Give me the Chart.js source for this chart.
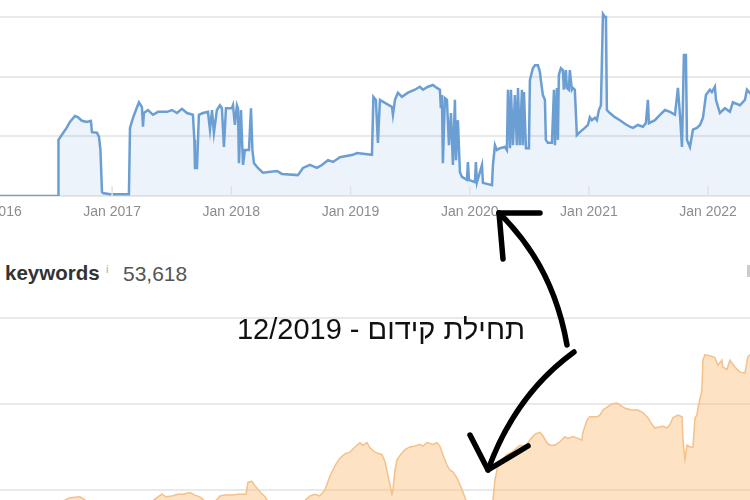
<!DOCTYPE html>
<html>
<head>
<meta charset="utf-8">
<script src="https://cdn.jsdelivr.net/npm/chart.js@4/dist/chart.umd.min.js"></script>
<style>
  html, body { margin: 0; padding: 0; background: #fff; }
  body { width: 750px; height: 500px; position: relative; overflow: hidden; font-family: 'Liberation Sans', Arial, sans-serif; }
  .box { position: absolute; }
  #topBox { left: -60px; top: 0; width: 870px; height: 221px; }
  #bottomBox { left: -60px; top: 300px; width: 870px; height: 200px; }
  .label { position: absolute; white-space: nowrap; line-height: 1; }
  #kw { left: 5px; top: 263px; font-size: 20.5px; font-weight: bold; color: #333; }
  #kwInfo { left: 106px; top: 264px; font-size: 11px; color: #aaa; }
  #kwValue { left: 123px; top: 263px; font-size: 21px; color: #555; }
  #edgeMark { position: absolute; left: 747px; top: 265px; width: 3px; height: 12px; background: #ccc; }
  #note { right: 225px; top: 315px; font-size: 29px; color: #111; direction: rtl; font-family: 'Liberation Sans', 'DejaVu Sans', Arial, sans-serif; }
  #arrows { position: absolute; left: 0; top: 0; width: 750px; height: 500px; pointer-events: none; }
</style>
</head>
<body>
<div class="box" id="topBox"><canvas id="topChart" width="870" height="221"></canvas></div>
<div class="box" id="bottomBox"><canvas id="bottomChart" width="870" height="200"></canvas></div>

<div class="label" id="kw">keywords</div>
<div class="label" id="kwInfo">i</div>
<div class="label" id="kwValue">53,618</div>
<div id="edgeMark"></div>
<div class="label" id="note">תחילת קידום - 12/2019</div>

<svg id="arrows" viewBox="0 0 750 500">
  <g fill="none" stroke="#000" stroke-width="5.5" stroke-linecap="round" stroke-linejoin="round">
    <path d="M567 345 Q553 265 499 213" />
    <path d="M540 213 L499 213 L503 259" />
    <path d="M574 352 Q515 395 488 470" />
    <path d="M470 435 L488 470 L528 446" />
  </g>
</svg>

<script>
// time axis, in decimal years
const xMin = 2015.556;
const xMax = 2022.855;
const yearTicks = [2016, 2017, 2018, 2019, 2020, 2021, 2022];
const yearLabels = ['Jan 2016', 'Jan 2017', 'Jan 2018', 'Jan 2019', 'Jan 2020', 'Jan 2021', 'Jan 2022'];

// top chart (blue)
const topDates = [2015.95, 2016.546, 2016.55, 2016.59, 2016.618, 2016.646, 2016.688, 2016.713, 2016.747, 2016.789,
  2016.822, 2016.831, 2016.873, 2016.89, 2016.902, 2016.915, 2016.923, 2016.982, 2017.141, 2017.15,
  2017.175, 2017.2, 2017.225, 2017.25, 2017.259, 2017.267, 2017.301, 2017.343, 2017.385, 2017.46,
  2017.502, 2017.544, 2017.586, 2017.628, 2017.678, 2017.69, 2017.695, 2017.712, 2017.728, 2017.762,
  2017.804, 2017.821, 2017.838, 2017.854, 2017.879, 2017.905, 2017.921, 2017.938, 2017.955, 2018.005,
  2018.014, 2018.03, 2018.047, 2018.056, 2018.064, 2018.081, 2018.098, 2018.114, 2018.148, 2018.165,
  2018.177, 2018.19, 2018.223, 2018.265, 2018.383, 2018.425, 2018.559, 2018.601, 2018.66, 2018.718,
  2018.76, 2018.811, 2018.853, 2018.911, 2019.02, 2019.054, 2019.18, 2019.192, 2019.213, 2019.23,
  2019.247, 2019.289, 2019.348, 2019.356, 2019.373, 2019.398, 2019.431, 2019.482, 2019.54, 2019.582,
  2019.608, 2019.65, 2019.691, 2019.725, 2019.75, 2019.758, 2019.767, 2019.775, 2019.792, 2019.809,
  2019.826, 2019.843, 2019.859, 2019.876, 2019.885, 2019.901, 2019.918, 2019.935, 2019.977, 2019.985,
  2019.994, 2020.044, 2020.052, 2020.061, 2020.103, 2020.111, 2020.187, 2020.195, 2020.212, 2020.228,
  2020.254, 2020.296, 2020.312, 2020.321, 2020.338, 2020.346, 2020.363, 2020.379, 2020.396, 2020.405,
  2020.421, 2020.438, 2020.446, 2020.455, 2020.472, 2020.497, 2020.505, 2020.53, 2020.547, 2020.572,
  2020.589, 2020.597, 2020.614, 2020.631, 2020.639, 2020.656, 2020.69, 2020.707, 2020.715, 2020.732,
  2020.74, 2020.748, 2020.765, 2020.782, 2020.79, 2020.807, 2020.815, 2020.832, 2020.84, 2020.857,
  2020.866, 2020.882, 2020.899, 2020.924, 2020.966, 2020.992, 2021.008, 2021.025, 2021.05, 2021.067,
  2021.084, 2021.101, 2021.118, 2021.135, 2021.143, 2021.151, 2021.176, 2021.218, 2021.26, 2021.302,
  2021.344, 2021.37, 2021.411, 2021.453, 2021.478, 2021.495, 2021.504, 2021.554, 2021.596, 2021.638,
  2021.68, 2021.722, 2021.747, 2021.764, 2021.781, 2021.797, 2021.814, 2021.823, 2021.848, 2021.873,
  2021.906, 2021.932, 2021.957, 2021.982, 2022.015, 2022.032, 2022.057, 2022.066, 2022.099, 2022.141,
  2022.183, 2022.208, 2022.267, 2022.309, 2022.326, 2022.368];
const topValues = [0, 0, 94, 106, 114, 124, 134, 132, 126, 124,
  126, 107, 106, 99, 77, 7, 5, 3, 3, 114,
  131, 144, 157, 149, 116, 139, 144, 136, 141, 141,
  144, 139, 146, 139, 136, 94, 47, 47, 136, 139,
  141, 111, 144, 106, 144, 152, 147, 82, 147, 147,
  152, 119, 152, 147, 55, 144, 52, 77, 77, 147,
  77, 55, 47, 39, 42, 37, 35, 47, 52, 47,
  52, 60, 57, 65, 69, 72, 69, 166, 161, 89,
  161, 156, 149, 136, 161, 173, 166, 173, 178, 183,
  178, 183, 186, 181, 178, 147, 169, 55, 164, 161,
  85, 139, 52, 161, 60, 127, 40, 32, 27, 57,
  27, 23, 57, 23, 52, 22, 18, 52, 85, 77,
  80, 82, 77, 178, 80, 178, 85, 169, 85, 181,
  85, 178, 85, 174, 80, 80, 194, 214, 219, 219,
  208, 194, 169, 161, 94, 89, 89, 178, 85, 181,
  94, 203, 214, 211, 178, 211, 181, 178, 211, 178,
  181, 178, 102, 107, 114, 119, 132, 127, 131, 127,
  144, 152, 305, 300, 300, 144, 139, 132, 127, 121,
  116, 114, 119, 116, 122, 161, 122, 127, 136, 144,
  141, 136, 181, 136, 82, 236, 236, 94, 82, 111,
  114, 119, 131, 169, 178, 174, 183, 161, 139, 147,
  141, 157, 152, 161, 178, 169];
const topGrid = [0, 100, 200, 300];

// bottom chart (orange, organic keywords)
const bottomDates = [2015.9, 2016.395, 2016.604, 2016.646, 2016.73, 2016.797, 2017.066, 2017.317, 2017.385, 2017.418,
  2017.452, 2017.502, 2017.552, 2017.594, 2017.653, 2017.695, 2017.737, 2017.779, 2017.838, 2017.888,
  2017.905, 2017.947, 2018.014, 2018.047, 2018.123, 2018.14, 2018.173, 2018.198, 2018.24, 2018.282,
  2018.307, 2018.45, 2018.576, 2018.618, 2018.66, 2018.702, 2018.743, 2018.785, 2018.827, 2018.869,
  2018.911, 2018.953, 2018.995, 2019.037, 2019.079, 2019.104, 2019.138, 2019.163, 2019.205, 2019.264,
  2019.289, 2019.314, 2019.331, 2019.348, 2019.356, 2019.373, 2019.39, 2019.415, 2019.457, 2019.499,
  2019.54, 2019.582, 2019.608, 2019.641, 2019.691, 2019.725, 2019.75, 2019.775, 2019.809, 2019.834,
  2019.859, 2019.893, 2019.918, 2019.943, 2019.968, 2020.019, 2020.153, 2020.195, 2020.212, 2020.237,
  2020.27, 2020.312, 2020.354, 2020.396, 2020.421, 2020.446, 2020.48, 2020.505, 2020.547, 2020.589,
  2020.614, 2020.648, 2020.673, 2020.715, 2020.757, 2020.799, 2020.824, 2020.866, 2020.908, 2020.941,
  2020.95, 2020.983, 2021.008, 2021.067, 2021.092, 2021.117, 2021.159, 2021.193, 2021.235, 2021.26,
  2021.302, 2021.361, 2021.411, 2021.453, 2021.495, 2021.529, 2021.554, 2021.579, 2021.621, 2021.655,
  2021.68, 2021.705, 2021.747, 2021.781, 2021.789, 2021.806, 2021.823, 2021.848, 2021.873, 2021.89,
  2021.906, 2021.915, 2021.948, 2021.957, 2021.973, 2022.015, 2022.057, 2022.082, 2022.116, 2022.124,
  2022.158, 2022.183, 2022.225, 2022.267, 2022.309, 2022.334, 2022.368];
const bottomValues = [74, 81, 88, 91, 92, 86, 81, 85, 92, 95,
  92, 93, 95, 95, 97, 94, 92, 87, 84, 90,
  93, 94, 94, 95, 95, 109, 110, 105, 98, 92,
  87, 81, 84, 88, 93, 95, 93, 100, 116, 128,
  137, 142, 144, 150, 155, 152, 155, 149, 144, 141,
  133, 117, 106, 95, 100, 123, 135, 140, 147, 150,
  151, 153, 151, 155, 153, 155, 151, 141, 129, 123,
  121, 114, 106, 98, 88, 79, 79, 88, 112, 128,
  135, 141, 144, 149, 152, 151, 153, 158, 165, 167,
  163, 155, 152, 152, 156, 162, 160, 162, 160, 158,
  167, 181, 185, 185, 187, 193, 197, 200, 201, 199,
  195, 193, 193, 190, 184, 176, 172, 173, 174, 172,
  176, 184, 187, 185, 158, 135, 152, 150, 150, 184,
  187, 195, 216, 251, 257, 256, 254, 245, 251, 243,
  240, 251, 243, 237, 236, 255, 259];
const bottomGrid = [100, 200, 300];

const FONT = "'Liberation Sans', Arial, sans-serif";
const toPoints = (xs, ys) => xs.map((x, i) => ({ x, y: ys[i] }));

// short tick marks sitting on the x axis, inside the plot
const yearMarks = {
    id: 'yearMarks',
    afterDatasetsDraw(chart) {
        const { ctx, chartArea, scales } = chart;
        ctx.save();
        ctx.strokeStyle = '#e2e2e2';
        ctx.lineWidth = 1.5;
        yearTicks.forEach(t => {
            const px = scales.x.getPixelForValue(t);
            ctx.beginPath();
            ctx.moveTo(px, chartArea.bottom - 10);
            ctx.lineTo(px, chartArea.bottom);
            ctx.stroke();
        });
        ctx.restore();
    }
};

new Chart(document.getElementById('topChart'), {
    type: 'line',
    data: {
        datasets: [{
            data: toPoints(topDates, topValues),
            borderColor: '#6b9fd3',
            borderWidth: 2.5,
            backgroundColor: 'rgba(107, 159, 211, 0.12)',
            fill: 'origin',
            pointRadius: 0,
            tension: 0
        }]
    },
    options: {
        responsive: false,
        animation: false,
        layout: { padding: 0 },
        plugins: { legend: { display: false }, tooltip: { enabled: false } },
        scales: {
            x: {
                type: 'linear',
                min: xMin,
                max: xMax,
                afterBuildTicks: s => { s.ticks = yearTicks.map(v => ({ value: v })); },
                afterFit: s => { s.height = 25; },
                grid: { display: false, drawTicks: false },
                border: { display: false },
                ticks: {
                    padding: 8,
                    maxRotation: 0,
                    autoSkip: false,
                    color: '#8c8c8c',
                    font: { family: FONT, size: 14 },
                    callback: (v) => yearLabels[yearTicks.indexOf(v)]
                }
            },
            y: {
                min: 0,
                max: 328.3,
                afterBuildTicks: s => { s.ticks = topGrid.map(v => ({ value: v })); },
                afterFit: s => { s.width = 0; },
                grid: { color: '#e9e9e9', lineWidth: 2, drawTicks: false },
                border: { display: false },
                ticks: { display: false }
            }
        }
    },
    plugins: [yearMarks]
});

new Chart(document.getElementById('bottomChart'), {
    type: 'line',
    data: {
        datasets: [{
            data: toPoints(bottomDates, bottomValues),
            borderColor: '#f5c089',
            borderWidth: 1.5,
            backgroundColor: 'rgba(251, 191, 124, 0.45)',
            fill: 'start',
            pointRadius: 0,
            tension: 0
        }]
    },
    options: {
        responsive: false,
        animation: false,
        layout: { padding: 0 },
        plugins: { legend: { display: false }, tooltip: { enabled: false } },
        scales: {
            x: { type: 'linear', min: xMin, max: xMax, display: false },
            y: {
                min: 88.3,
                max: 320.9,
                afterBuildTicks: s => { s.ticks = bottomGrid.map(v => ({ value: v })); },
                afterFit: s => { s.width = 0; },
                grid: { color: '#e9e9e9', lineWidth: 2, drawTicks: false },
                border: { display: false },
                ticks: { display: false }
            }
        }
    }
});
</script>
</body>
</html>
